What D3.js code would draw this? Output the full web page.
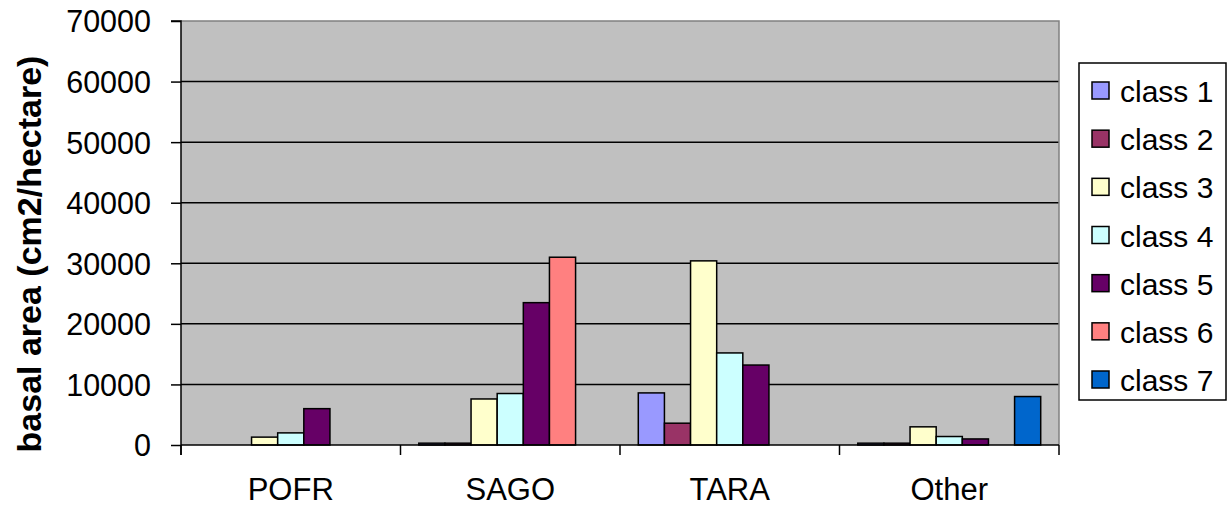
<!DOCTYPE html>
<html>
<head>
<meta charset="utf-8">
<script src="https://cdn.jsdelivr.net/npm/d3@7/dist/d3.min.js"></script>
<style>
  html, body { margin: 0; padding: 0; background: #ffffff; }
  svg { display: block; font-family: "Liberation Sans", Arial, sans-serif; }
</style>
</head>
<body>
<svg id="chart" width="1228" height="507"></svg>
<script>
// Basal area by species group and size class
const categories = ["POFR", "SAGO", "TARA", "Other"];
const classNames = ["class 1", "class 2", "class 3", "class 4", "class 5", "class 6", "class 7"];
const class1 = [0, 300, 8600, 300];
const class2 = [0, 300, 3600, 300];
const class3 = [1300, 7600, 30400, 3000];
const class4 = [2000, 8500, 15200, 1400];
const class5 = [6000, 23500, 13200, 1000];
const class6 = [0, 31000, 0, 0];
const class7 = [0, 0, 0, 8000];
const classColors = ["#9999FF", "#993366", "#FFFFCC", "#CCFFFF", "#660066", "#FF8080", "#0066CC"];
const yTicks = [0, 10000, 20000, 30000, 40000, 50000, 60000, 70000];
const yTitle = "basal area (cm2/hectare)";

const series = [class1, class2, class3, class4, class5, class6, class7];

const svg = d3.select("#chart");
const plot = { left: 181, right: 1059, top: 21, bottom: 445 };

const x0 = d3.scaleBand().domain(categories).range([plot.left, plot.right]).padding(0);
const x1 = d3.scaleBand().domain(classNames).range([0, x0.bandwidth()])
  .paddingInner(0).paddingOuter(0.7);
const y = d3.scaleLinear().domain([0, 70000]).range([plot.bottom, plot.top]);

// plot background
svg.append("rect")
  .attr("x", plot.left).attr("y", plot.top)
  .attr("width", plot.right - plot.left).attr("height", plot.bottom - plot.top)
  .attr("fill", "#C0C0C0");

// horizontal gridlines
svg.append("g").selectAll("line")
  .data(yTicks.filter(v => v > 0 && v < 70000))
  .join("line")
  .attr("x1", plot.left).attr("x2", plot.right)
  .attr("y1", d => y(d)).attr("y2", d => y(d))
  .attr("stroke", "#000").attr("stroke-width", 1.5);

// grey frame on top and right
svg.append("path")
  .attr("d", `M${plot.left},${plot.top}H${plot.right}V${plot.bottom}`)
  .attr("fill", "none").attr("stroke", "#808080").attr("stroke-width", 1.5);

// bars
const groups = svg.append("g").selectAll("g")
  .data(categories)
  .join("g")
  .attr("transform", d => `translate(${x0(d)},0)`);

groups.selectAll("rect")
  .data((cat, i) => classNames.map((c, k) => ({ cls: c, k, value: series[k][i] })).filter(d => d.value > 0))
  .join("rect")
  .attr("x", d => x1(d.cls))
  .attr("width", x1.bandwidth())
  .attr("y", d => y(d.value))
  .attr("height", d => y(0) - y(d.value))
  .attr("fill", d => classColors[d.k])
  .attr("stroke", "#000").attr("stroke-width", 1.5);

// y axis
const yAxis = d3.axisLeft(y).tickValues(yTicks).tickSize(10).tickPadding(20).tickFormat(d3.format("d"));
const gy = svg.append("g").attr("transform", `translate(${plot.left},0)`).call(yAxis);
gy.select(".domain").attr("stroke", "#000").attr("stroke-width", 1.5).attr("d", `M-10,${plot.top}H0V${plot.bottom + 10}`);
gy.selectAll(".tick line").attr("stroke", "#000").attr("stroke-width", 1.5);
gy.selectAll(".tick text")
  .attr("fill", "#000")
  .style("font-size", "30.5px")
  .attr("dy", "0.36em");

// x axis: category tick marks at band edges
const gx = svg.append("g");
gx.append("line")
  .attr("x1", plot.left).attr("x2", plot.right)
  .attr("y1", plot.bottom).attr("y2", plot.bottom)
  .attr("stroke", "#000").attr("stroke-width", 1.5);
const edges = categories.map(c => x0(c)).concat([x0(categories[categories.length - 1]) + x0.bandwidth()]);
gx.selectAll("line.edge")
  .data(edges)
  .join("line")
  .attr("class", "edge")
  .attr("x1", d => d).attr("x2", d => d)
  .attr("y1", plot.bottom).attr("y2", plot.bottom + 10)
  .attr("stroke", "#000").attr("stroke-width", 1.5);
gx.selectAll("text")
  .data(categories)
  .join("text")
  .attr("x", d => x0(d) + x0.bandwidth() / 2)
  .attr("y", 499.5)
  .attr("text-anchor", "middle")
  .style("font-size", "31px")
  .attr("fill", "#000")
  .text(d => d);

// y axis title
svg.append("text")
  .attr("transform", "translate(41,254) rotate(-90)")
  .attr("text-anchor", "middle")
  .style("font-size", "34px")
  .style("font-weight", "bold")
  .attr("fill", "#000")
  .text(yTitle);

// legend
const legend = svg.append("g");
legend.append("rect")
  .attr("x", 1079).attr("y", 63).attr("width", 147).attr("height", 337)
  .attr("fill", "#fff").attr("stroke", "#000").attr("stroke-width", 1.5);
const ly = d3.scalePoint().domain(classNames).range([91, 380]);
const items = legend.selectAll("g.item")
  .data(classNames)
  .join("g")
  .attr("class", "item")
  .attr("transform", d => `translate(0,${ly(d)})`);
items.append("rect")
  .attr("x", 1092).attr("y", -9).attr("width", 17).attr("height", 17)
  .attr("fill", (d, i) => classColors[i])
  .attr("stroke", "#000").attr("stroke-width", 1.5);
items.append("text")
  .attr("x", 1120).attr("y", 11)
  .style("font-size", "30px")
  .attr("fill", "#000")
  .text(d => d);
</script>
</body>
</html>
